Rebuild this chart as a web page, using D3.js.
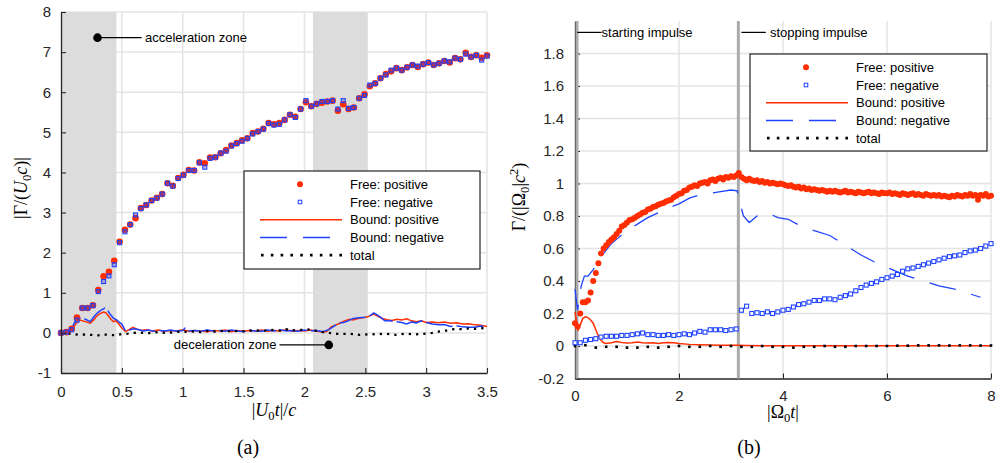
<!DOCTYPE html>
<html>
<head>
<meta charset="utf-8">
<script src="https://cdn.jsdelivr.net/npm/d3@7"></script>
<style>
  body { margin: 0; background: #fff; }
  svg { display: block; }
</style>
</head>
<body>
<script>
// ---- panel (a): sampled every 0.04375 in |U0 t|/c ----
const aStep = 0.04375;
const aFreePos = [
  0.0, 0.02, 0.1, 0.38, 0.62, 0.62, 0.69, 1.07, 1.41, 1.52,
  1.80, 2.27, 2.57, 2.70, 2.86, 3.11, 3.19, 3.30, 3.37, 3.46,
  3.73, 3.67, 3.86, 3.94, 4.06, 4.05, 4.25, 4.23, 4.37, 4.38,
  4.48, 4.56, 4.67, 4.73, 4.80, 4.85, 4.98, 5.02, 5.09, 5.23,
  5.20, 5.23, 5.31, 5.44, 5.39, 5.58, 5.75, 5.65, 5.71, 5.74,
  5.77, 5.79, 5.54, 5.70, 5.58, 5.62, 5.85, 5.95, 6.15, 6.22,
  6.35, 6.45, 6.52, 6.60, 6.55, 6.62, 6.68, 6.63, 6.70, 6.74,
  6.68, 6.72, 6.78, 6.74, 6.85, 6.82, 6.98, 6.88, 6.92, 6.86, 6.92
];
const aFreeNeg = [
  0.0, 0.02, 0.08, 0.32, 0.62, 0.62, 0.68, 1.03, 1.28, 1.42,
  1.70, 2.25, 2.52, 2.70, 2.94, 3.10, 3.19, 3.30, 3.36, 3.46,
  3.73, 3.66, 3.85, 3.93, 4.05, 4.05, 4.24, 4.13, 4.35, 4.38,
  4.48, 4.53, 4.66, 4.72, 4.78, 4.85, 4.96, 5.02, 5.08, 5.22,
  5.18, 5.20, 5.31, 5.44, 5.37, 5.58, 5.79, 5.65, 5.71, 5.77,
  5.77, 5.79, 5.58, 5.79, 5.60, 5.62, 5.85, 5.92, 6.18, 6.22,
  6.35, 6.43, 6.55, 6.60, 6.55, 6.62, 6.68, 6.65, 6.70, 6.74,
  6.68, 6.72, 6.78, 6.76, 6.85, 6.82, 6.95, 6.88, 6.92, 6.80, 6.90
];
const aBoundPos = [
  [0,0],[0.03,-0.02],[0.06,-0.04],[0.09,0.08],[0.12,0.22],[0.156,0.32],[0.18,0.3],[0.2,0.28],
  [0.24,0.24],[0.27,0.33],[0.29,0.41],[0.32,0.48],[0.35,0.52],[0.37,0.5],[0.39,0.42],[0.41,0.34],
  [0.43,0.28],[0.45,0.3],[0.47,0.24],[0.5,0.12],[0.53,0.03],[0.56,0.08],[0.59,0.14],[0.62,0.1],
  [0.66,0.06],[0.7,0.08],[0.75,0.05],[0.8,0.07],[0.85,0.04],[0.9,0.06],[0.95,0.05],[1.0,0.08],
  [1.05,0.04],[1.1,0.06],[1.15,0.05],[1.2,0.03],[1.25,0.06],[1.3,0.05],[1.35,0.07],[1.4,0.03],
  [1.45,0.06],[1.5,0.04],[1.55,0.06],[1.6,0.05],[1.65,0.07],[1.7,0.04],[1.75,0.06],[1.8,0.05],
  [1.85,0.08],[1.9,0.04],[1.95,0.06],[2.0,0.05],[2.05,0.07],[2.1,0.04],[2.15,0.02],[2.18,0.03],
  [2.22,0.15],[2.26,0.2],[2.29,0.24],[2.33,0.3],[2.37,0.34],[2.4,0.32],[2.44,0.36],[2.48,0.38],
  [2.52,0.4],[2.57,0.47],[2.6,0.42],[2.64,0.36],[2.68,0.33],[2.72,0.31],[2.76,0.34],[2.8,0.32],
  [2.84,0.35],[2.88,0.3],[2.92,0.28],[2.96,0.3],[3.0,0.26],[3.05,0.27],[3.1,0.25],[3.15,0.27],
  [3.2,0.24],[3.25,0.25],[3.3,0.22],[3.35,0.23],[3.4,0.2],[3.45,0.19],[3.5,0.16]
];
const aBoundNeg = [
  [0,0.02],[0.03,0.0],[0.06,0.02],[0.09,0.12],[0.115,0.28],[0.14,0.36],[0.17,0.38],[0.2,0.34],
  [0.24,0.28],[0.27,0.4],[0.3,0.5],[0.33,0.57],[0.36,0.62],[0.38,0.58],[0.4,0.48],[0.43,0.37],
  [0.46,0.32],[0.48,0.26],[0.5,0.22],[0.53,0.05],[0.56,0.07],[0.6,0.1],[0.64,0.08],[0.68,0.05],
  [0.72,0.07],[0.76,0.04],[0.8,0.06],[0.85,0.05],[0.9,0.07],[0.95,0.04],[1.0,0.06],[1.02,0.12],
  [1.05,0.05],[1.1,0.06],[1.15,0.04],[1.2,0.07],[1.25,0.05],[1.3,0.06],[1.35,0.04],[1.4,0.07],
  [1.45,0.05],[1.5,0.03],[1.55,0.06],[1.6,0.05],[1.65,0.04],[1.7,0.07],[1.75,0.05],[1.8,0.08],
  [1.85,0.05],[1.9,0.06],[1.95,0.04],[2.0,0.07],[2.05,0.05],[2.1,0.06],[2.15,0.03],[2.2,0.08],
  [2.25,0.18],[2.28,0.24],[2.32,0.26],[2.36,0.3],[2.4,0.36],[2.45,0.38],[2.5,0.39],[2.54,0.43],
  [2.57,0.5],[2.6,0.44],[2.63,0.38],[2.66,0.3],[2.7,0.3],[2.75,0.28],[2.8,0.26],[2.84,0.22],
  [2.88,0.27],[2.92,0.25],[2.96,0.3],[3.0,0.26],[3.05,0.22],[3.1,0.2],[3.15,0.21],[3.2,0.16],
  [3.25,0.18],[3.3,0.15],[3.35,0.14],[3.4,0.14],[3.45,0.17],[3.5,0.16]
];
const aTotalStep = 0.05;
const aTotal = [
  0.0, -0.01, -0.03, -0.05, -0.04, -0.05, -0.06, -0.04, -0.05, -0.06,
  -0.03, -0.02, 0.0, 0.01, -0.01, 0.0, 0.02, 0.0, 0.01, 0.03,
  0.02, 0.04, 0.03, 0.02, 0.05, 0.03, 0.04, 0.06, 0.03, 0.05,
  0.04, 0.06, 0.05, 0.07, 0.05, 0.08, 0.06, 0.09, 0.06, 0.08,
  0.07, 0.09, 0.05, 0.02, 0.0, -0.02, -0.03, -0.02, -0.03, -0.05,
  -0.04, -0.03, -0.04, -0.02, -0.03, -0.05, -0.03, -0.02, -0.04, -0.03,
  -0.02, 0.0, 0.03, 0.05, 0.08, 0.1, 0.09, 0.11, 0.1, 0.12, 0.11
];
const aZones = [[0, 0.455], [2.07, 2.52]];
const aXTicks = [0, 0.5, 1, 1.5, 2, 2.5, 3, 3.5];
const aYTicks = [-1, 0, 1, 2, 3, 4, 5, 6, 7, 8];

// ---- panel (b): |Omega0 t| ----
const bStep = 0.05;
const bFreePos = [
  0.14, 0.12, 0.20, 0.27, 0.27, 0.28, 0.33, 0.40, 0.45, 0.51, 0.57, 0.60, 0.62, 0.64, 0.655, 0.67, 0.69, 0.71, 0.735, 0.745,
  0.76, 0.775, 0.78, 0.79, 0.80, 0.81, 0.82, 0.825, 0.84, 0.845, 0.855, 0.86, 0.87, 0.875, 0.88, 0.89, 0.895, 0.90, 0.915, 0.925,
  0.935, 0.94, 0.955, 0.96, 0.975, 0.98, 0.99, 0.985, 1.0, 1.005, 1.01, 1.0, 1.02, 1.025, 1.015, 1.03, 1.035, 1.025, 1.04, 1.035,
  1.045, 1.04, 1.05, 1.065, 1.04, 1.03, 1.02, 1.03, 1.02, 1.015, 1.02, 1.01, 1.015, 1.005, 1.01, 1.0, 1.005, 1.0, 0.995, 1.0,
  0.995, 0.99, 0.985, 0.99, 0.98, 0.975, 0.98, 0.97, 0.975, 0.965, 0.97, 0.96, 0.965, 0.96, 0.955, 0.96, 0.955, 0.95, 0.955, 0.95,
  0.955, 0.95, 0.945, 0.95, 0.955, 0.945, 0.95, 0.945, 0.94, 0.95, 0.945, 0.94, 0.945, 0.95, 0.94, 0.945, 0.94, 0.935, 0.945, 0.94,
  0.94, 0.945, 0.935, 0.94, 0.935, 0.93, 0.94, 0.935, 0.93, 0.935, 0.94, 0.93, 0.935, 0.93, 0.925, 0.935, 0.93, 0.925, 0.93, 0.925,
  0.93, 0.92, 0.925, 0.92, 0.915, 0.925, 0.92, 0.93, 0.925, 0.92, 0.93, 0.925, 0.935, 0.925, 0.93, 0.90, 0.93, 0.925, 0.935, 0.92,
  0.925
];
const bNegStep = 0.1;
const bFreeNeg = [
  0.02, 0.02, 0.035, 0.04, 0.045, 0.055, 0.06, 0.06, 0.06, 0.065,
  0.065, 0.07, 0.075, 0.08, 0.07, 0.07, 0.065, 0.065, 0.07, 0.065,
  0.07, 0.075, 0.07, 0.08, 0.09, 0.085, 0.1, 0.1, 0.1, 0.095,
  0.1, 0.105, 0.22, 0.245, 0.2, 0.205, 0.2, 0.21, 0.2, 0.21,
  0.22, 0.225, 0.24, 0.255, 0.26, 0.27, 0.28, 0.28, 0.29, 0.29,
  0.285, 0.30, 0.31, 0.32, 0.34, 0.36, 0.375, 0.385, 0.395, 0.41,
  0.42, 0.43, 0.44, 0.46, 0.475, 0.48, 0.49, 0.5, 0.51, 0.52,
  0.53, 0.54, 0.55, 0.555, 0.56, 0.575, 0.585, 0.59, 0.6, 0.615,
  0.63
];
const bBoundPos = [
  [0,0.21],[0.03,0.15],[0.06,0.1],[0.1,0.13],[0.15,0.17],[0.2,0.18],[0.25,0.175],[0.3,0.16],
  [0.35,0.14],[0.4,0.1],[0.45,0.06],[0.5,0.035],[0.55,0.02],[0.6,0.015],[0.7,0.02],[0.8,0.027],
  [0.9,0.022],[1.0,0.018],[1.1,0.02],[1.2,0.025],[1.3,0.02],[1.4,0.018],[1.5,0.02],[1.6,0.015],
  [1.7,0.02],[1.8,0.022],[1.9,0.02],[2.0,0.015],[2.2,0.01],[2.4,0.008],[2.6,0.006],[2.8,0.004],
  [3.0,0.005],[3.14,0.004],[3.3,0.003],[3.6,0.002],[4,0.002],[5,0.002],[6,0.002],[7,0.002],[8,0.002]
];
const bBoundNeg = [
  [0,0.35],[0.05,0.22],[0.08,0.3],[0.12,0.37],[0.18,0.43],[0.25,0.43],[0.35,0.47],[0.45,0.52],
  [0.55,0.57],[0.7,0.63],[0.85,0.67],[1.0,0.71],[1.2,0.75],[1.4,0.79],[1.6,0.82],[1.8,0.85],
  [2.0,0.875],[2.2,0.91],[2.4,0.93],[2.6,0.94],[2.8,0.95],[3.0,0.96],[3.12,0.955],[3.16,0.89],
  [3.24,0.8],[3.35,0.76],[3.5,0.8],[3.7,0.82],[3.9,0.79],[4.1,0.78],[4.3,0.745],[4.6,0.71],
  [4.9,0.68],[5.2,0.62],[5.5,0.56],[5.8,0.51],[6.1,0.47],[6.4,0.43],[6.7,0.4],[7.0,0.37],
  [7.3,0.35],[7.6,0.32],[7.8,0.3]
];
const bTotalStep = 0.2;
const bTotal = [
  0.0, 0.005, -0.01, -0.005, -0.005, -0.01, -0.01, -0.005, -0.01, -0.005,
  0.0, -0.005, -0.005, 0.0, -0.005, 0.0, -0.005, -0.005, 0.0, -0.005,
  -0.005, -0.01, -0.005, -0.005, 0.0, -0.005, -0.005, 0.0, 0.0, 0.0,
  0.0, 0.002, 0.002, 0.004, 0.004, 0.004, 0.003, 0.004, 0.004, 0.003, 0.003
];
const bImpulses = [0, Math.PI];
const bXTicks = [0, 2, 4, 6, 8];
const bYTicks = [-0.2, 0, 0.2, 0.4, 0.6, 0.8, 1, 1.2, 1.4, 1.6, 1.8];

const legendLabels = ['Free: positive', 'Free: negative', 'Bound: positive', 'Bound: negative', 'total'];

const RED = '#ff2d00', BLUE = '#1f42ff', AX = '#262626', GRID = '#e4e4e4';
const SANS = '"Liberation Sans", Arial, Helvetica, sans-serif';
const SERIF = '"Liberation Serif", "Times New Roman", serif';

const svg = d3.select('body').append('svg').attr('width', 1001).attr('height', 463);

const xA = d3.scaleLinear().domain([0, 3.5]).range([61, 487]);
const yA = d3.scaleLinear().domain([-1, 8]).range([373, 12]);
const xB = d3.scaleLinear().domain([0, 8]).range([575, 991]);
const yB = d3.scaleLinear().domain([-0.2, 2]).range([378.5, 21]);

function grid(g, x, y, xt, yt) {
  g.selectAll('line.gx').data(xt.filter(d => d !== x.domain()[0])).enter().append('line')
    .attr('x1', d => x(d)).attr('x2', d => x(d))
    .attr('y1', y.range()[0]).attr('y2', y.range()[1])
    .attr('stroke', GRID).attr('stroke-width', 1.5);
  g.selectAll('line.gy').data(yt.filter(d => d !== y.domain()[0])).enter().append('line')
    .attr('y1', d => y(d)).attr('y2', d => y(d))
    .attr('x1', x.range()[0]).attr('x2', x.range()[1])
    .attr('stroke', GRID).attr('stroke-width', 1.5);
}

function axes(g, x, y, xt, yt, padX, padY) {
  const ax = g.append('g').attr('transform', 'translate(0,' + y.range()[0] + ')')
    .call(d3.axisBottom(x).tickValues(xt).tickFormat(String).tickSize(-5).tickSizeOuter(0).tickPadding(padX));
  const ay = g.append('g').attr('transform', 'translate(' + x.range()[0] + ',0)')
    .call(d3.axisLeft(y).tickValues(yt).tickFormat(String).tickSize(-5).tickSizeOuter(0).tickPadding(padY));
  [ax, ay].forEach(a => {
    a.select('.domain').attr('stroke', AX).attr('stroke-width', 1.3);
    a.selectAll('.tick line').attr('stroke', AX).attr('stroke-width', 1.1);
    a.selectAll('.tick text').attr('fill', AX).style('font-family', SANS).style('font-size', '15px');
  });
}

function mathText(sel, parts) {
  let shift = 0;
  parts.forEach(p => {
    const t = sel.append('tspan').text(p[0]);
    let target = 0;
    if (p[1] === 'i') t.style('font-style', 'italic');
    if (p[1] === 'sub') { target = 4; t.style('font-size', '0.7em'); }
    if (p[1] === 'sup') { target = -7; t.style('font-size', '0.7em'); }
    if (target !== shift) { t.attr('dy', target - shift); shift = target; }
  });
}

function legend(g, x0, y0, w, h) {
  g.append('rect').attr('x', x0).attr('y', y0).attr('width', w).attr('height', h)
    .attr('fill', '#fff').attr('stroke', AX).attr('stroke-width', 1.2);
  const rowY = i => y0 + 13.3 + i * 17.7;
  const cx = x0 + 56, l1 = x0 + 16, l2 = x0 + 98;
  g.append('circle').attr('cx', cx).attr('cy', rowY(0)).attr('r', 3).attr('fill', RED);
  g.append('rect').attr('x', cx - 1.8).attr('y', rowY(1) - 1.8).attr('width', 3.6).attr('height', 3.6)
    .attr('fill', '#fff').attr('stroke', BLUE).attr('stroke-width', 1);
  g.append('line').attr('x1', l1).attr('x2', l2).attr('y1', rowY(2)).attr('y2', rowY(2))
    .attr('stroke', RED).attr('stroke-width', 1.5);
  g.append('line').attr('x1', l1).attr('x2', l2).attr('y1', rowY(3)).attr('y2', rowY(3))
    .attr('stroke', BLUE).attr('stroke-width', 1.5).attr('stroke-dasharray', '27,16');
  g.append('line').attr('x1', l1 + 1).attr('x2', l2).attr('y1', rowY(4)).attr('y2', rowY(4))
    .attr('stroke', '#000').attr('stroke-width', 2.6).attr('stroke-dasharray', '2.6,7.2');
  g.selectAll('text.lg').data(legendLabels).enter().append('text')
    .attr('x', x0 + 106).attr('y', (d, i) => rowY(i) + 4.6)
    .style('font-family', SANS).style('font-size', '13px').attr('fill', '#000')
    .text(d => d);
}

// ================= panel (a) =================
const gA = svg.append('g');
grid(gA, xA, yA, aXTicks, aYTicks);
gA.selectAll('rect.zone').data(aZones).enter().append('rect')
  .attr('x', d => xA(d[0])).attr('width', d => xA(d[1]) - xA(d[0]))
  .attr('y', yA(8)).attr('height', yA(-1) - yA(8))
  .attr('fill', '#dcdcdc');

const lineA = d3.line().x(d => xA(d[0])).y(d => yA(d[1]));
gA.append('path').attr('d', lineA(aBoundPos)).attr('fill', 'none')
  .attr('stroke', RED).attr('stroke-width', 1.5);
gA.append('path').attr('d', lineA(aBoundNeg)).attr('fill', 'none')
  .attr('stroke', BLUE).attr('stroke-width', 1.5).attr('stroke-dasharray', '27,4');
gA.append('path').attr('d', lineA(aTotal.map((v, i) => [i * aTotalStep, v]))).attr('fill', 'none')
  .attr('stroke', '#000').attr('stroke-width', 2.3).attr('stroke-dasharray', '2.3,5');

gA.selectAll('circle.fp').data(aFreePos).enter().append('circle')
  .attr('cx', (d, i) => xA(i * aStep)).attr('cy', d => yA(d))
  .attr('r', 3.3).attr('fill', RED);
gA.selectAll('rect.fn').data(aFreeNeg).enter().append('rect')
  .attr('x', (d, i) => xA(i * aStep) - 2).attr('y', d => yA(d) - 2)
  .attr('width', 4).attr('height', 4)
  .attr('fill', 'rgba(70,60,200,0.35)').attr('stroke', BLUE).attr('stroke-width', 1.1);

axes(gA, xA, yA, aXTicks, aYTicks, 13, 10);

// zone annotations
gA.append('line').attr('x1', xA(0.3)).attr('x2', xA(0.663)).attr('y1', yA(7.36)).attr('y2', yA(7.36))
  .attr('stroke', '#000').attr('stroke-width', 1.2);
gA.append('circle').attr('cx', xA(0.3)).attr('cy', yA(7.36)).attr('r', 4.3).attr('fill', '#000');
gA.append('text').attr('x', xA(0.69)).attr('y', yA(7.36) + 4.5)
  .style('font-family', SANS).style('font-size', '13px').text('acceleration zone');
gA.append('line').attr('x1', xA(1.795)).attr('x2', xA(2.2)).attr('y1', yA(-0.3)).attr('y2', yA(-0.3))
  .attr('stroke', '#000').attr('stroke-width', 1.2);
gA.append('circle').attr('cx', xA(2.2)).attr('cy', yA(-0.3)).attr('r', 4.3).attr('fill', '#000');
gA.append('text').attr('x', xA(1.77)).attr('y', yA(-0.3) + 4.5).attr('text-anchor', 'end')
  .style('font-family', SANS).style('font-size', '13px').text('deceleration zone');

legend(gA, 244, 171, 236, 98);

mathText(gA.append('text').attr('transform', 'translate(27,188) rotate(-90)').attr('text-anchor', 'middle')
  .style('font-family', SERIF).style('font-size', '18px'),
  [['|Γ/(', ''], ['U', 'i'], ['0', 'sub'], ['c', 'i'], [')|', '']]);
mathText(gA.append('text').attr('x', xA(1.75)).attr('y', 416).attr('text-anchor', 'middle')
  .style('font-family', SERIF).style('font-size', '18px'),
  [['|', ''], ['U', 'i'], ['0', 'sub'], ['t', 'i'], ['|/', ''], ['c', 'i']]);
gA.append('text').attr('x', 248).attr('y', 454).attr('text-anchor', 'middle')
  .style('font-family', SERIF).style('font-size', '20px').text('(a)');

// ================= panel (b) =================
const gB = svg.append('g');
grid(gB, xB, yB, bXTicks, bYTicks);
axes(gB, xB, yB, bXTicks, bYTicks, 11.5, 11);

gB.selectAll('line.imp').data(bImpulses).enter().append('line')
  .attr('x1', d => xB(d) + (d === 0 ? 2 : 0)).attr('x2', d => xB(d) + (d === 0 ? 2 : 0))
  .attr('y1', yB(-0.2)).attr('y2', yB(2))
  .attr('stroke', '#aaaaaa').attr('stroke-width', 3);

const lineB = d3.line().x(d => xB(d[0])).y(d => yB(d[1]));
gB.append('path').attr('d', lineB(bBoundPos)).attr('fill', 'none')
  .attr('stroke', RED).attr('stroke-width', 1.5);
gB.append('path').attr('d', lineB(bBoundNeg)).attr('fill', 'none')
  .attr('stroke', BLUE).attr('stroke-width', 1.3).attr('stroke-dasharray', '27,16');
gB.selectAll('rect.tot').data(bTotal).enter().append('rect')
  .attr('x', (d, i) => xB(i * bTotalStep) - 1.3).attr('y', d => yB(d) - 1.3)
  .attr('width', 2.6).attr('height', 2.6).attr('fill', '#000');
gB.selectAll('rect.fn').data(bFreeNeg).enter().append('rect')
  .attr('x', (d, i) => xB(i * bNegStep) - 2).attr('y', d => yB(d) - 2)
  .attr('width', 4).attr('height', 4)
  .attr('fill', '#fff').attr('stroke', BLUE).attr('stroke-width', 1.1);
gB.selectAll('circle.fp').data(bFreePos).enter().append('circle')
  .attr('cx', (d, i) => xB(i * bStep)).attr('cy', d => yB(d))
  .attr('r', 3).attr('fill', RED);

// impulse labels
gB.append('line').attr('x1', xB(0.04)).attr('x2', xB(0.51)).attr('y1', yB(1.93)).attr('y2', yB(1.93))
  .attr('stroke', '#000').attr('stroke-width', 1.2);
gB.append('text').attr('x', xB(0.51)).attr('y', yB(1.93) + 4.5)
  .style('font-family', SANS).style('font-size', '13px').text('starting impulse');
gB.append('line').attr('x1', xB(3.2)).attr('x2', xB(3.67)).attr('y1', yB(1.93)).attr('y2', yB(1.93))
  .attr('stroke', '#000').attr('stroke-width', 1.2);
gB.append('text').attr('x', xB(3.75)).attr('y', yB(1.93) + 4.5)
  .style('font-family', SANS).style('font-size', '13px').text('stopping impulse');

legend(gB, 750, 54, 237, 97);

mathText(gB.append('text').attr('transform', 'translate(525,197) rotate(-90)').attr('text-anchor', 'middle')
  .style('font-family', SERIF).style('font-size', '18px'),
  [['Γ/(|Ω', ''], ['0', 'sub'], ['|', ''], ['c', 'i'], ['2', 'sup'], [')', '']]);
mathText(gB.append('text').attr('x', xB(4)).attr('y', 418).attr('text-anchor', 'middle')
  .style('font-family', SERIF).style('font-size', '18px'),
  [['|Ω', ''], ['0', 'sub'], ['t', 'i'], ['|', '']]);
gB.append('text').attr('x', 749).attr('y', 454).attr('text-anchor', 'middle')
  .style('font-family', SERIF).style('font-size', '20px').text('(b)');
</script>
</body>
</html>
